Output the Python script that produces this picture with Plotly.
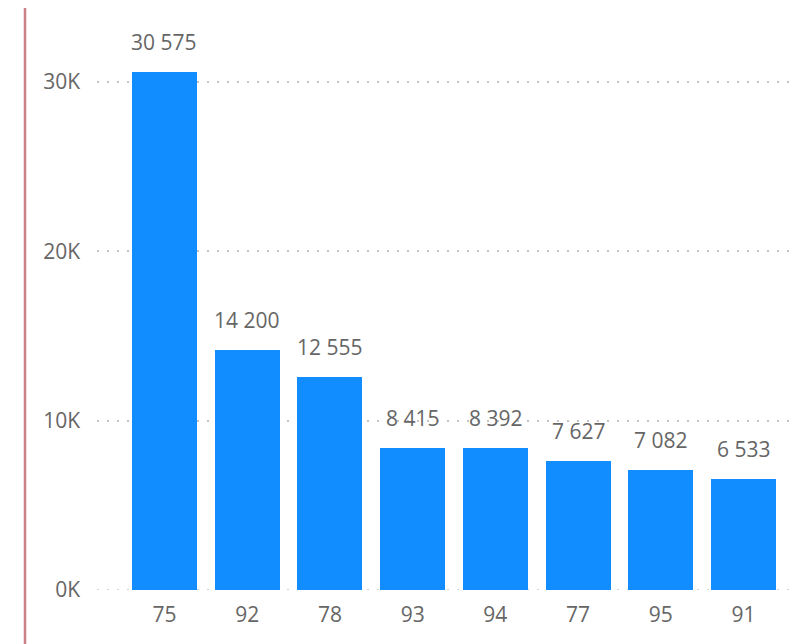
import plotly.graph_objects as go

categories = ["75", "92", "78", "93", "94", "77", "95", "91"]
values = [30575, 14200, 12555, 8415, 8392, 7627, 7082, 6533]
tick_vals = [0, 10000, 20000, 30000]
tick_text = ["0K", "10K", "20K", "30K"]

def fmt(v):
    return f"{v:,}".replace(",", " ")

# page body has an 8px margin, so the figure is sized/offset accordingly
W, H = 790, 636
ml, mr, mt, mb = 89, 2, 12, 54
FONT = "Segoe UI, Open Sans, Noto Sans, sans-serif"
GRAY = "#666666"
GRID = "#C4C4C4"

fig = go.Figure()
fig.add_trace(go.Bar(
    x=list(range(len(categories))), y=values,
    marker=dict(color="#118DFF", line=dict(width=0)),
    width=0.786, hoverinfo="skip",
))

for i, v in enumerate(values):
    fig.add_annotation(x=i, y=v, text=fmt(v), showarrow=False,
                       yanchor="bottom", yshift=14,
                       font=dict(family=FONT, size=21, color=GRAY))

plot_w = W - ml - mr
line_x = (17 - ml) / plot_w
fig.add_shape(type="line", xref="paper", yref="paper",
              x0=line_x, x1=line_x, y0=-1, y1=2,
              line=dict(color="#CC8088", width=2.5))
fig.add_shape(type="line", xref="paper", yref="y", layer="below",
              x0=0, x1=1, y0=0, y1=0,
              line=dict(color=GRID, width=1.5, dash="2px,8px"))

fig.update_layout(
    width=W, height=H,
    margin=dict(l=ml, r=mr, t=mt, b=mb),
    plot_bgcolor="white", paper_bgcolor="white",
    showlegend=False,
    xaxis=dict(range=[-0.816, 7.635], tickvals=list(range(len(categories))),
               ticktext=categories, showgrid=False, zeroline=False,
               showline=False, ticks="", ticklabelstandoff=10,
               tickfont=dict(family=FONT, size=21, color=GRAY)),
    yaxis=dict(range=[0, 33660], tickvals=tick_vals, ticktext=tick_text,
               showgrid=True, gridcolor=GRID, griddash="2px,8px", gridwidth=1.5,
               zeroline=False, showline=False, ticks="", ticklabelstandoff=16,
               tickfont=dict(family=FONT, size=21, color=GRAY)),
    bargap=0,
)

fig.write_html("out.html")
